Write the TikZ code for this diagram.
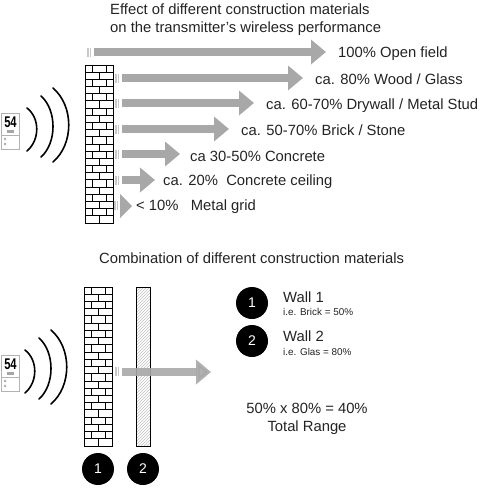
\documentclass[tikz,border=0pt]{standalone}
\usepackage{fontspec}
\setmainfont{Liberation Sans}
\usetikzlibrary{arrows.meta,patterns}
\definecolor{arrowgray}{RGB}{168,168,168}
\definecolor{tickgray}{RGB}{200,200,200}
\definecolor{textdark}{RGB}{35,35,35}
\tikzstyle{bigarrow}=[-{Triangle[length=15pt,width=24pt]},line width=8.5pt,draw=arrowgray]
\tikzstyle{tickline}=[line width=1.2pt,draw=tickgray]
\tikzstyle{lbl}=[anchor=west,inner sep=0pt,yshift=-1.5pt,text=textdark,font=\fontsize{14.8}{17}\selectfont]
\tikzstyle{smalllbl}=[anchor=west,inner sep=0pt,yshift=-0.5pt,text=textdark,font=\fontsize{9.9}{11}\selectfont]
\tikzstyle{ctrlbl}=[anchor=center,inner sep=0pt,yshift=-1.5pt,text=textdark,font=\fontsize{14.8}{17}\selectfont]
\tikzstyle{numdot}=[circle,fill=black,minimum size=32pt,inner sep=0pt,text=white,font=\fontsize{14}{16}\selectfont]
\tikzstyle{waveline}=[line width=1.6pt,line cap=round,draw=black]
\tikzstyle{routerbox}=[draw=black!30,fill=white,line width=0.6pt]
\tikzstyle{brickline}=[line width=0.9pt,draw=black]
\newcommand{\brickwall}[3]{% left x, top y, bottom y
  \draw[line width=1pt] (#1,#2) rectangle (#1+28,#3);
  \foreach \r in {0,...,21} {
    \pgfmathsetmacro{\ya}{#2+\r*(#3-#2)/22}
    \pgfmathsetmacro{\yb}{#2+(\r+1)*(#3-#2)/22}
    \draw[brickline] (#1,\ya) -- (#1+28,\ya);
    \ifodd\r
      \draw[brickline] (#1+14,\ya) -- (#1+14,\yb);
    \else
      \draw[brickline] (#1+7,\ya) -- (#1+7,\yb);
      \draw[brickline] (#1+21,\ya) -- (#1+21,\yb);
    \fi
  }
}
\newcommand{\routerwaves}[3]{% node prefix, y offset, x offset of the waves
  \draw[routerbox] (1,113+#2) rectangle (19,149+#2);
  \draw[routerbox] (1,135+#2) -- (19,135+#2);
  \node[inner sep=0pt,font=\fontsize{15.5}{16}\bfseries\selectfont] (#1num) at (10.5,122+#2) {\scalebox{0.72}[1]{54}};
  \fill[black!35] (7,130+#2) rectangle (14,133+#2);
  \draw[black!45,line width=0.4pt] (5,139+#2) circle (1.2) (5,144+#2) circle (1.2);
  \draw[waveline] (27+#3,108+#2) .. controls (40+#3,118+#2) and (40+#3,140+#2) .. (27+#3,151+#2);
  \draw[waveline] (41+#3,96+#2) .. controls (57+#3,110+#2) and (57+#3,143+#2) .. (41+#3,157+#2);
  \draw[waveline] (53+#3,88+#2) .. controls (74+#3,106+#2) and (74+#3,144+#2) .. (53+#3,162+#2);
}
\begin{document}
\begin{tikzpicture}[x=1pt,y=-1pt]
  \useasboundingbox (0,0) rectangle (481,488);

  % top part
  \node[lbl] (title1) at (110,8) {Effect of different construction materials};
  \node[lbl] (title2) at (110,27) {on the transmitter's wireless performance};
  \routerwaves{ra}{0}{0}
  \brickwall{85}{65}{223}

  \foreach \name/\x/\y/\tip in {a/94/52/326,b/122/78/303,c/122/103/254,d/122/129/229,e/122/154/180,f/122/180/155} {
    \coordinate (s\name) at (\x,\y);
    \coordinate (e\name) at (\tip,\y);
    \draw[tickline] (\x-6,\y-4.5) -- (\x-6,\y+4.5);
    \draw[tickline] (\x-3.5,\y-4.5) -- (\x-3.5,\y+4.5);
    \draw[bigarrow] (s\name) -- (e\name);
  }
  \draw[tickline] (115,200.5) -- (115,209.5);
  \draw[tickline] (117.5,200.5) -- (117.5,209.5);
  \coordinate (sg) at (120,206);
  \coordinate (eg) at (132,206);
  \draw[-{Triangle[length=12pt,width=24pt]},line width=0.1pt,draw=arrowgray] (sg) -- (eg);

  \node[lbl] (la) at (338,52) {100\% Open field};
  \node[lbl] (lb) at (315,78) {ca. 80\% Wood / Glass};
  \node[lbl] (lc) at (266,104) {ca. 60-70\% Drywall / Metal Stud};
  \node[lbl] (ld) at (241,129) {ca. 50-70\% Brick / Stone};
  \node[lbl] (le) at (190,155) {ca 30-50\% Concrete};
  \node[lbl] (lf) at (163,180) {ca. 20\%\ \ Concrete ceiling};
  \node[lbl] (lg) at (136,205) {< 10\%\ \ \ Metal grid};

  % bottom part
  \node[lbl] (title3) at (99,257) {Combination of different construction materials};
  \routerwaves{rb}{242}{-2}
  \brickwall{84}{287}{446}
  \draw[line width=1pt,pattern=north east lines,pattern color=black!25] (136,287) rectangle (150,446);

  \draw[tickline] (116,366.5) -- (116,375.5);
  \draw[tickline] (118.5,366.5) -- (118.5,375.5);
  \coordinate (sh) at (122,372);
  \coordinate (eh) at (211,372);
  \draw[bigarrow,opacity=0.9] (sh) -- (eh);

  \node[numdot] (n1) at (98,469) {1};
  \node[numdot] (n2) at (143,469) {2};
  \node[numdot] (w1) at (252,303) {1};
  \node[numdot] (w2) at (252,341) {2};

  \node[lbl] (wt1) at (283,296) {Wall 1};
  \node[smalllbl] (ws1) at (283,311) {i.e. Brick = 50\%};
  \node[lbl] (wt2) at (283,335) {Wall 2};
  \node[smalllbl] (ws2) at (283,351) {i.e. Glas = 80\%};
  \node[ctrlbl] (res1) at (307,407) {50\% x 80\% = 40\%};
  \node[ctrlbl] (res2) at (307,426) {Total Range};
\end{tikzpicture}
\end{document}
